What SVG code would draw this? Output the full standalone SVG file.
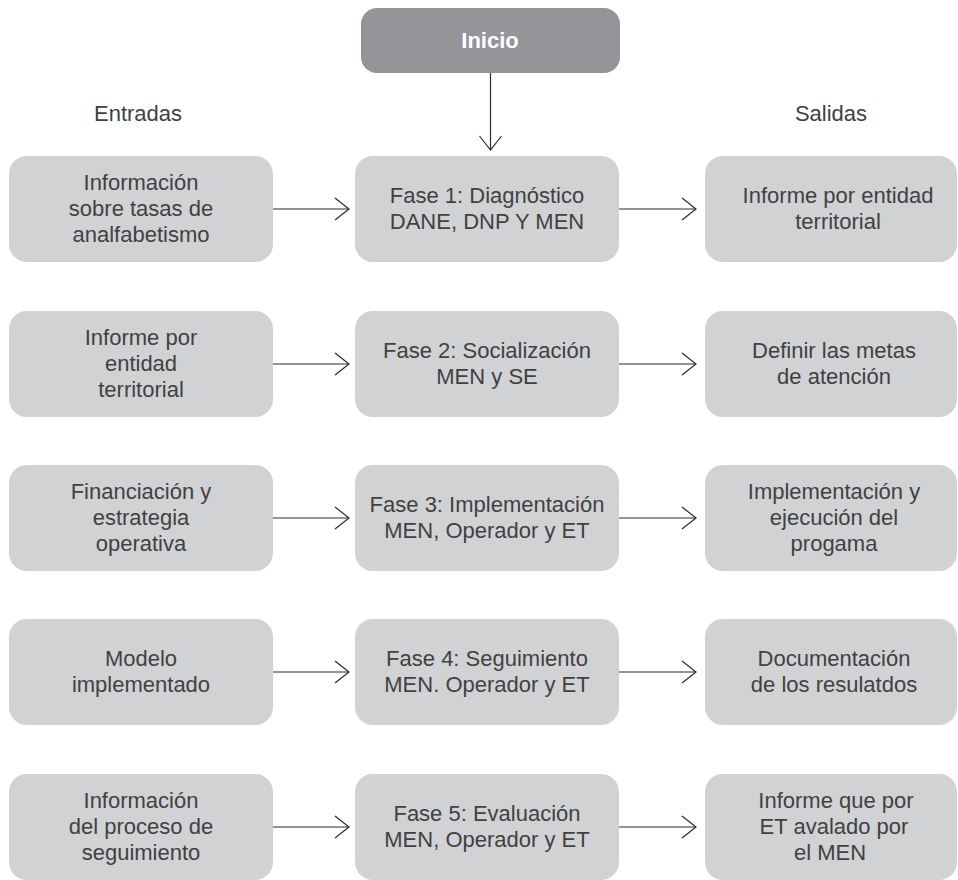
<svg xmlns="http://www.w3.org/2000/svg" width="958" height="880" viewBox="0 0 958 880">
  <defs>
    <style>
      .box { fill: #d1d2d4; }
      .start { fill: #939598; }
      .t { font-family: "Liberation Sans", Arial, sans-serif; font-size: 22px; fill: #414142; text-anchor: middle; }
      .ts { font-family: "Liberation Sans", Arial, sans-serif; font-size: 22px; font-weight: bold; fill: #ffffff; text-anchor: middle; }
      .ln { stroke: #2b2b2b; stroke-width: 1.2; fill: none; }
    </style>
    <marker id="arr" viewBox="0 0 16 24" refX="15" refY="12" markerWidth="16" markerHeight="24" markerUnits="userSpaceOnUse" orient="auto">
      <path d="M1,1 L15,12 L1,23" fill="none" stroke="#2b2b2b" stroke-width="1.2"/>
    </marker>
  </defs>

  <rect width="958" height="880" fill="#ffffff"/>

  <!-- column headers -->
  <text class="t" x="138" y="121">Entradas</text>
  <text class="t" x="831" y="121">Salidas</text>

  <!-- start node -->
  <g id="inicio">
    <rect class="start" x="361" y="8" width="259" height="65" rx="16"/>
    <text class="ts" x="490" y="48">Inicio</text>
  </g>

  <!-- row 1 -->
  <g id="in1">
    <rect class="box" x="9" y="156" width="264" height="106" rx="18"/>
    <text class="t" x="141" y="190">Información</text>
    <text class="t" x="141" y="216">sobre tasas de</text>
    <text class="t" x="141" y="242">analfabetismo</text>
  </g>
  <g id="fase1">
    <rect class="box" x="355" y="156" width="264" height="106" rx="18"/>
    <text class="t" x="487" y="203">Fase 1: Diagnóstico</text>
    <text class="t" x="487" y="229">DANE, DNP Y MEN</text>
  </g>
  <g id="out1">
    <rect class="box" x="705" y="156" width="252" height="106" rx="18"/>
    <text class="t" x="838" y="203">Informe por entidad</text>
    <text class="t" x="838" y="229">territorial</text>
  </g>

  <!-- row 2 -->
  <g id="in2">
    <rect class="box" x="9" y="311" width="264" height="106" rx="18"/>
    <text class="t" x="141" y="345">Informe por</text>
    <text class="t" x="141" y="371">entidad</text>
    <text class="t" x="141" y="397">territorial</text>
  </g>
  <g id="fase2">
    <rect class="box" x="355" y="311" width="264" height="106" rx="18"/>
    <text class="t" x="487" y="358">Fase 2: Socialización</text>
    <text class="t" x="487" y="384">MEN y SE</text>
  </g>
  <g id="out2">
    <rect class="box" x="705" y="311" width="252" height="106" rx="18"/>
    <text class="t" x="834" y="358">Definir las metas</text>
    <text class="t" x="834" y="384">de atención</text>
  </g>

  <!-- row 3 -->
  <g id="in3">
    <rect class="box" x="9" y="465" width="264" height="106" rx="18"/>
    <text class="t" x="141" y="499">Financiación y</text>
    <text class="t" x="141" y="525">estrategia</text>
    <text class="t" x="141" y="551">operativa</text>
  </g>
  <g id="fase3">
    <rect class="box" x="355" y="465" width="264" height="106" rx="18"/>
    <text class="t" x="487" y="512">Fase 3: Implementación</text>
    <text class="t" x="487" y="538">MEN, Operador y ET</text>
  </g>
  <g id="out3">
    <rect class="box" x="705" y="465" width="252" height="106" rx="18"/>
    <text class="t" x="834" y="499">Implementación y</text>
    <text class="t" x="834" y="525">ejecución del</text>
    <text class="t" x="834" y="551">progama</text>
  </g>

  <!-- row 4 -->
  <g id="in4">
    <rect class="box" x="9" y="619" width="264" height="106" rx="18"/>
    <text class="t" x="141" y="666">Modelo</text>
    <text class="t" x="141" y="692">implementado</text>
  </g>
  <g id="fase4">
    <rect class="box" x="355" y="619" width="264" height="106" rx="18"/>
    <text class="t" x="487" y="666">Fase 4: Seguimiento</text>
    <text class="t" x="487" y="692">MEN. Operador y ET</text>
  </g>
  <g id="out4">
    <rect class="box" x="705" y="619" width="252" height="106" rx="18"/>
    <text class="t" x="834" y="666">Documentación</text>
    <text class="t" x="834" y="692">de los resulatdos</text>
  </g>

  <!-- row 5 -->
  <g id="in5">
    <rect class="box" x="9" y="774" width="264" height="106" rx="18"/>
    <text class="t" x="141" y="808">Información</text>
    <text class="t" x="141" y="834">del proceso de</text>
    <text class="t" x="141" y="860">seguimiento</text>
  </g>
  <g id="fase5">
    <rect class="box" x="355" y="774" width="264" height="106" rx="18"/>
    <text class="t" x="487" y="821">Fase 5: Evaluación</text>
    <text class="t" x="487" y="847">MEN, Operador y ET</text>
  </g>
  <g id="out5">
    <rect class="box" x="705" y="774" width="252" height="106" rx="18"/>
    <text class="t" x="836" y="808">Informe que por</text>
    <text class="t" x="834" y="834">ET avalado por</text>
    <text class="t" x="830" y="860">el MEN</text>
  </g>

  <!-- connectors -->
  <g id="connectors">
    <line class="ln" x1="490.5" y1="73" x2="490.5" y2="150" marker-end="url(#arr)"/>
    <line class="ln" x1="273" y1="209" x2="349" y2="209" marker-end="url(#arr)"/>
    <line class="ln" x1="619" y1="209" x2="696" y2="209" marker-end="url(#arr)"/>
    <line class="ln" x1="273" y1="364" x2="349" y2="364" marker-end="url(#arr)"/>
    <line class="ln" x1="619" y1="364" x2="696" y2="364" marker-end="url(#arr)"/>
    <line class="ln" x1="273" y1="518" x2="349" y2="518" marker-end="url(#arr)"/>
    <line class="ln" x1="619" y1="518" x2="696" y2="518" marker-end="url(#arr)"/>
    <line class="ln" x1="273" y1="672" x2="349" y2="672" marker-end="url(#arr)"/>
    <line class="ln" x1="619" y1="672" x2="696" y2="672" marker-end="url(#arr)"/>
    <line class="ln" x1="273" y1="827" x2="349" y2="827" marker-end="url(#arr)"/>
    <line class="ln" x1="619" y1="827" x2="696" y2="827" marker-end="url(#arr)"/>
  </g>
</svg>
